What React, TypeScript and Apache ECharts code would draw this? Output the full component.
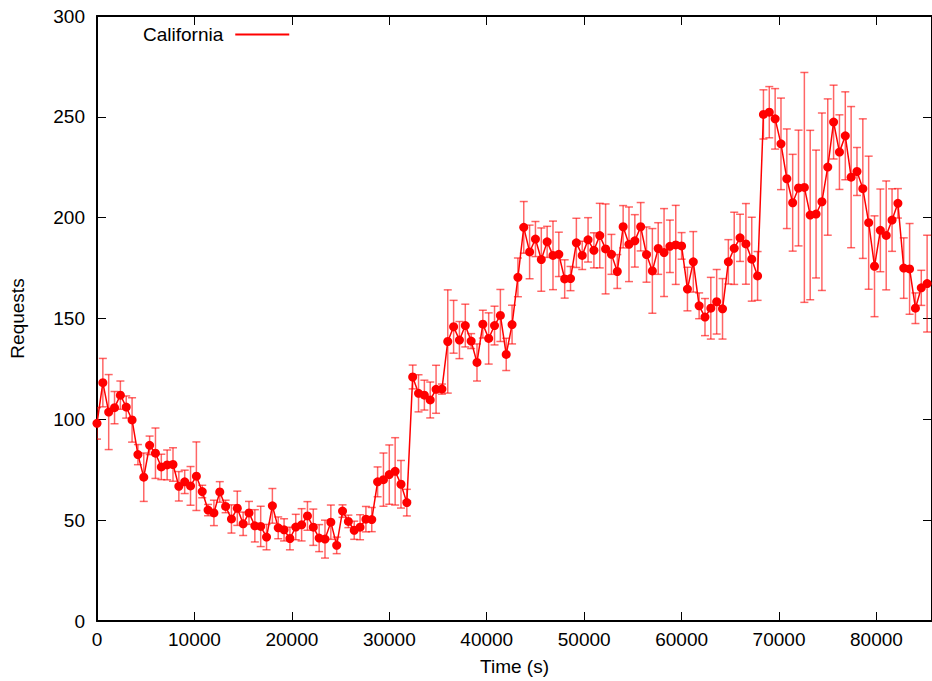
import React, { useEffect, useRef } from "react";
import * as echarts from "echarts";

// Sampling: one measurement every 600 s starting at 0 s
const START_TIME = 0;
const SAMPLE_STEP = 600;

const requests: number[] = [
  98.0, 118.2, 103.6, 105.8, 112.0, 106.1, 99.7, 82.5, 71.3, 87.1,
  83.2, 76.4, 77.4, 77.6, 66.8, 69.0, 67.0, 71.8, 64.2, 55.0,
  53.6, 64.0, 56.8, 50.6, 55.9, 48.2, 53.6, 47.2, 46.9, 41.6,
  57.1, 46.2, 45.2, 40.9, 46.6, 47.7, 52.1, 46.5, 41.1, 40.6,
  49.0, 37.5, 54.5, 49.4, 45.0, 46.5, 50.5, 50.3, 69.0, 70.1,
  72.6, 74.2, 67.8, 58.7, 121.0, 112.9, 112.0, 109.6, 114.9, 115.0,
  138.6, 145.9, 139.3, 146.5, 138.8, 128.2, 147.2, 140.1, 146.5, 151.5,
  132.2, 147.0, 170.4, 195.2, 183.0, 189.4, 179.2, 188.0, 181.3, 181.8,
  169.6, 169.8, 187.5, 181.3, 189.0, 183.8, 191.1, 184.5, 181.8, 173.3,
  195.5, 186.8, 188.5, 195.5, 181.7, 173.6, 184.7, 182.7, 185.8, 186.5,
  186.0, 164.6, 178.1, 156.3, 150.7, 155.1, 158.3, 154.8, 178.1, 184.8,
  190.0, 187.0, 179.4, 171.1, 251.2, 252.3, 249.0, 236.6, 219.3, 207.4,
  214.7, 215.0, 201.3, 201.8, 207.9, 225.1, 247.4, 232.5, 240.6, 220.1,
  222.9, 214.4, 197.5, 175.9, 193.7, 191.2, 198.8, 207.1, 175.0, 174.6,
  155.1, 165.2, 167.3,
];

const errors: number[] = [
  7.8, 12, 18.6, 8, 7, 5.5, 11, 5, 12, 4.6,
  12.5, 6.3, 7.4, 8.3, 7.3, 5.8, 9.6, 17, 3.1, 2.8,
  6.3, 5.1, 3.1, 7, 8.5, 5.8, 5.7, 8, 10, 6.3,
  8.6, 5.4, 5.5, 5.6, 6.3, 8, 7.1, 9, 6.7, 9.4,
  8.5, 4.1, 3.1, 3.1, 4.5, 6.2, 6.3, 6, 7.4, 13.2,
  14.7, 16.7, 11.8, 6.6, 5.9, 9.2, 7.4, 8.9, 11.9, 2.5,
  25.6, 13.1, 9.2, 10.6, 3.7, 9.2, 6.9, 12.7, 9.6, 12.9,
  8, 9.6, 9.6, 12.8, 13.3, 8.7, 15.7, 7.7, 17, 11,
  9.5, 6, 12.2, 7, 11, 8.7, 16, 22.3, 9.9, 8.4,
  10.5, 18.5, 13, 12, 13.7, 21, 12.8, 21.8, 13, 19.6,
  6.6, 10.8, 15, 6.4, 9.2, 15.3, 16, 15, 11, 17.9,
  11.7, 20, 20.8, 12.1, 12.2, 12.7, 15, 22.7, 24.7, 24,
  28.7, 57, 42, 31.7, 44, 33.8, 18.3, 18.5, 21.8, 35,
  11.9, 34.6, 33, 25, 20.5, 27, 15.5, 7.3, 15, 22.5,
  7.6, 8.7, 24,
];

const SERIES_NAME = "California";
const X_NAME = "Time (s)";
const Y_NAME = "Requests";
const X_MIN = 0;
const X_MAX = 85700;
const X_INTERVAL = 10000;
const Y_MIN = 0;
const Y_MAX = 300;
const Y_INTERVAL = 50;

const FONT = "Liberation Sans, Arial, Helvetica, sans-serif";
const FS = 19;

export default function App() {
  const ref = useRef<HTMLDivElement>(null);

  useEffect(() => {
    if (!ref.current) return;
    const chart = echarts.init(ref.current, null, { renderer: "svg" });

    const times = requests.map((_, i) => START_TIME + i * SAMPLE_STEP);
    const lineData = requests.map((v, i) => [times[i], v]);
    const errData = requests.map((v, i) => [times[i], v - errors[i], v + errors[i]]);

    const mkTick = () => ({ show: true, inside: true, length: 9, lineStyle: { color: "#000", width: 1 } });
    const mkLine = () => ({ show: true, onZero: false, lineStyle: { color: "#000", width: 2 } });
    const labelStyle = { color: "#000", fontSize: FS, fontFamily: FONT };

    chart.setOption({
      animation: false,
      backgroundColor: "#fff",
      grid: { left: 97, right: -6, top: 16, bottom: 59, containLabel: false },
      legend: {
        show: true,
        left: 143,
        top: 25,
        padding: 0,
        align: "right",
        itemWidth: 54,
        itemHeight: 2,
        itemGap: 10,
        textStyle: { color: "#000", fontSize: FS, fontFamily: FONT, padding: [0, 7, 0, 0] },
        data: [{ name: SERIES_NAME, icon: "rect", itemStyle: { color: "#ff0000" } }],
      },
      xAxis: [
        {
          type: "value",
          min: X_MIN,
          max: X_MAX,
          interval: X_INTERVAL,
          position: "bottom",
          name: X_NAME,
          nameLocation: "middle",
          nameGap: 36,
          nameTextStyle: { color: "#000", fontSize: FS, fontFamily: FONT },
          axisLine: mkLine(),
          axisTick: mkTick(),
          axisLabel: { ...labelStyle, margin: 9, showMaxLabel: false, formatter: (v: number) => String(v) },
          splitLine: { show: false },
        },
        {
          type: "value",
          min: X_MIN,
          max: X_MAX,
          interval: X_INTERVAL,
          position: "top",
          axisLine: mkLine(),
          axisTick: mkTick(),
          axisLabel: { show: false },
          splitLine: { show: false },
        },
      ],
      yAxis: [
        {
          type: "value",
          min: Y_MIN,
          max: Y_MAX,
          interval: Y_INTERVAL,
          position: "left",
          name: Y_NAME,
          nameLocation: "middle",
          nameGap: 70,
          nameRotate: 90,
          nameTextStyle: { color: "#000", fontSize: FS, fontFamily: FONT },
          axisLine: mkLine(),
          axisTick: mkTick(),
          axisLabel: { ...labelStyle, margin: 12 },
          splitLine: { show: false },
        },
        {
          type: "value",
          min: Y_MIN,
          max: Y_MAX,
          interval: Y_INTERVAL,
          position: "right",
          axisLine: mkLine(),
          axisTick: mkTick(),
          axisLabel: { show: false },
          splitLine: { show: false },
        },
      ],
      series: [
        {
          type: "custom",
          name: SERIES_NAME + " error",
          xAxisIndex: 0,
          yAxisIndex: 0,
          z: 1,
          clip: true,
          encode: { x: 0, y: [1, 2] },
          data: errData,
          renderItem: (params: any, api: any) => {
            const x = api.value(0);
            const lo = api.coord([x, api.value(1)]);
            const hi = api.coord([x, api.value(2)]);
            const hw = 4;
            const style = { stroke: "rgba(255,0,0,0.6)", lineWidth: 1.5 };
            return {
              type: "group",
              children: [
                { type: "line", shape: { x1: lo[0], y1: lo[1], x2: hi[0], y2: hi[1] }, style },
                { type: "line", shape: { x1: lo[0] - hw, y1: lo[1], x2: lo[0] + hw, y2: lo[1] }, style },
                { type: "line", shape: { x1: hi[0] - hw, y1: hi[1], x2: hi[0] + hw, y2: hi[1] }, style },
              ],
            };
          },
        },
        {
          type: "line",
          name: SERIES_NAME,
          xAxisIndex: 0,
          yAxisIndex: 0,
          z: 3,
          data: lineData,
          symbol: "circle",
          symbolSize: 9,
          showAllSymbol: true,
          color: "#ff0000",
          lineStyle: { color: "#ff0000", width: 1.5 },
          itemStyle: { color: "#ff0000" },
        },
      ],
    });

    return () => chart.dispose();
  }, []);

  return (
    <div
      ref={ref}
      style={{ position: "absolute", left: 0, top: 0, width: 932, height: 681 }}
    />
  );
}
